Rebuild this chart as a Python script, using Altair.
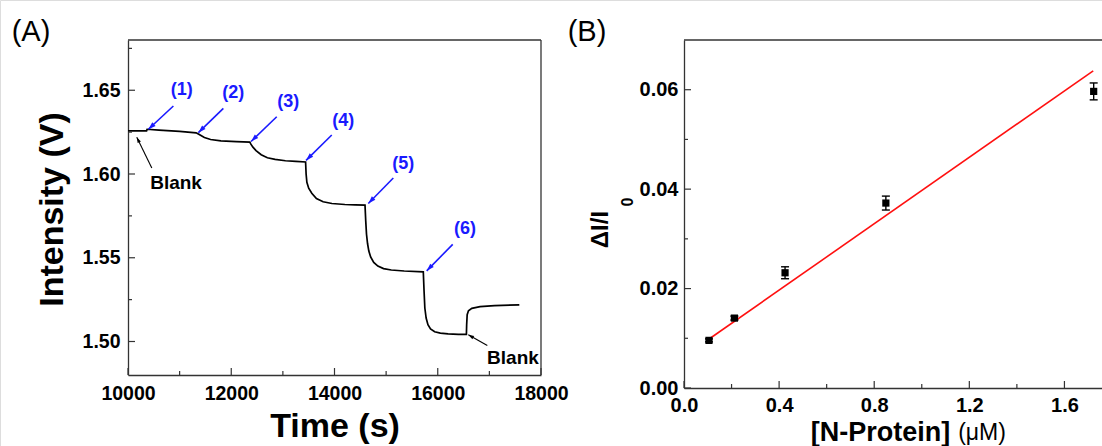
import math
import altair as alt
import pandas as pd

FONT = "Liberation Sans"
BLUE = "#1a1aff"
AXC = "#333333"

# ---------------- Panel A: time trace ----------------
time_s = [10000, 10200, 10360, 10370, 10600, 11000, 11320, 11380, 11480, 11600, 11800, 12100, 12360,
          12380, 12420, 12480, 12580, 12700, 12850, 13050, 13250, 13440,
          13450, 13465, 13500, 13560, 13650, 13780, 13950, 14200, 14400, 14591,
          14605, 14620, 14640, 14665, 14700, 14760, 14840, 14950, 15100, 15350, 15720,
          15735, 15750, 15775, 15810, 15860, 15940, 16050, 16200, 16400, 16555,
          16560, 16570, 16595, 16660, 16820, 17100, 17580]
intensity_v = [1.6258, 1.6258, 1.6258, 1.6267, 1.6262, 1.6254, 1.6246, 1.6236, 1.6218, 1.6206, 1.6198, 1.6193, 1.6190,
               1.6178, 1.6160, 1.6140, 1.6115, 1.6097, 1.6087, 1.6079, 1.6075, 1.6072,
               1.6000, 1.5950, 1.5915, 1.5885, 1.5853, 1.5834, 1.5824, 1.5818, 1.5816, 1.5814,
               1.5720, 1.5640, 1.5585, 1.5540, 1.5505, 1.5472, 1.5450, 1.5435, 1.5427, 1.5421, 1.5416,
               1.5300, 1.5200, 1.5140, 1.5100, 1.5075, 1.5058, 1.5050, 1.5045, 1.5043, 1.5042,
               1.5100, 1.5160, 1.5184, 1.5198, 1.5208, 1.5214, 1.5219]

step_labels = ["(1)", "(2)", "(3)", "(4)", "(5)", "(6)"]
step_label_t = [11042, 12041, 13106, 14171, 15333, 16528]
step_label_v = [1.6501, 1.6481, 1.6431, 1.6317, 1.6059, 1.5673]
step_arrow_t0 = [10879, 11847, 12881, 13947, 15139, 16290]
step_arrow_v0 = [1.6406, 1.6392, 1.6342, 1.6233, 1.5976, 1.5580]
step_arrow_t1 = [10395, 11363, 12384, 13449, 14655, 15786]
step_arrow_v1 = [1.6267, 1.6247, 1.6194, 1.6081, 1.5824, 1.5422]

blank_labels = ["Blank", "Blank"]
blank_label_t = [10931, 17457]
blank_label_v = [1.5948, 1.4903]
blank_arrow_t0 = [10461, 16960]
blank_arrow_v0 = [1.6036, 1.4976]
blank_arrow_t1 = [10170, 16592]
blank_arrow_v1 = [1.6220, 1.5040]

a_x_major = [10000, 12000, 14000, 16000, 18000]
a_x_minor = [11000, 13000, 15000, 17000]
a_y_major = [1.50, 1.55, 1.60, 1.65]
a_y_minor = [1.525, 1.575, 1.625, 1.675]

# ---------------- Panel B: calibration ----------------
conc_um = [0.105, 0.212, 0.425, 0.849, 1.723]
delta_ratio = [0.00958, 0.01406, 0.02318, 0.03720, 0.05966]
ratio_err = [0.0003, 0.0004, 0.0012, 0.0014, 0.0017]
fit_x = [0.101, 1.721]
fit_y = [0.0097, 0.0638]

b_x_major = [0.0, 0.4, 0.8, 1.2, 1.6]
b_x_minor = [0.2, 0.6, 1.0, 1.4]
b_y_major = [0.00, 0.02, 0.04, 0.06]
b_y_minor = [0.01, 0.03, 0.05]

# ---------------- scales ----------------
A_X = [10000, 18000]
A_Y = [1.48, 1.68]
A_XR = [128, 541]
A_YR = [375, 40]
B_X = [0, 1.758]
B_Y = [0, 0.07]
B_XR = [684, 1102]
B_YR = [388, 40]
W, H = 1102, 446


def sA():
    return (alt.Scale(domain=A_X, range=A_XR, nice=False, zero=False),
            alt.Scale(domain=A_Y, range=A_YR, nice=False, zero=False))


def sB():
    return (alt.Scale(domain=B_X, range=B_XR, nice=False, zero=False),
            alt.Scale(domain=B_Y, range=B_YR, nice=False, zero=False))


pxA = ((A_XR[1] - A_XR[0]) / (A_X[1] - A_X[0]), (A_YR[0] - A_YR[1]) / (A_Y[1] - A_Y[0]))


def head_angle(x0, y0, x1, y1, px):
    dx = (x1 - x0) * px[0]
    dy = -(y1 - y0) * px[1]
    return (math.degrees(math.atan2(dx, -dy)) + 360) % 360


HEAD = "M0,0L-0.32,1L0.32,1Z"

lab_common = dict(labelFont=FONT, labelFontWeight="bold", labelColor="black",
                  labelFlush=False, labelOverlap=False, ticks=False, tickSize=0, grid=False,
                  domainColor=AXC, domainWidth=1.3, titleFont=FONT, titleFontWeight="bold",
                  titleColor="black", titleAlign="center", titleBaseline="middle")

axA_x = alt.Axis(values=a_x_major, format="d", orient="bottom", offset=A_YR[0] - H, labelPadding=9,
                 labelFontSize=19.5, title="Time (s)", titleFontSize=34,
                 titleX=(A_XR[0] + A_XR[1]) / 2, titleY=51, **lab_common)
axA_y = alt.Axis(values=a_y_major, format=".2f", orient="left", offset=-A_XR[0], labelPadding=8,
                 labelFontSize=19.5, title="Intensity (V)", titleFontSize=34, titleX=52 - A_XR[0],
                 titleY=209, titleAngle=270, **lab_common)
axB_x = alt.Axis(values=b_x_major, format=".1f", orient="bottom", offset=B_YR[0] - H, labelPadding=7,
                 labelFontSize=20, title="[N-Protein]", titleFontSize=27, titleX=880, titleY=44,
                 **lab_common)
axB_y = alt.Axis(values=b_y_major, format=".2f", orient="left", offset=-B_XR[0], labelPadding=6,
                 labelFontSize=20, title="\u0394I/I", titleFontSize=24, titleX=600 - B_XR[0], titleY=229,
                 titleAngle=270, **lab_common)

layers = []

# ---------------- Panel A layers ----------------
xs, ys = sA()
curve_df = pd.DataFrame({"t": time_s, "v": intensity_v})
layers.append(alt.Chart(curve_df).mark_line(color="black", strokeWidth=1.7).encode(
    x=alt.X("t:Q", scale=xs, axis=axA_x),
    y=alt.Y("v:Q", scale=ys, axis=axA_y),
))

xs, ys = sA()
layers.append(alt.Chart(pd.DataFrame({"x1": [A_X[0], A_X[1]], "x2": [A_X[1], A_X[1]],
                                      "y1": [A_Y[1], A_Y[0]], "y2": [A_Y[1], A_Y[1]]})).mark_rule(
    color=AXC, strokeWidth=1.3).encode(
    x=alt.X("x1:Q", scale=xs, axis=None), x2="x2:Q",
    y=alt.Y("y1:Q", scale=ys, axis=None), y2="y2:Q"))


def xticks(vals, y0, length, scales):
    xs_, ys_ = scales()
    df = pd.DataFrame({"p": vals, "b": [y0] * len(vals)})
    return alt.Chart(df).mark_tick(orient="vertical", size=length, thickness=1.2,
                                   yOffset=-length / 2, color=AXC, opacity=1).encode(
        x=alt.X("p:Q", scale=xs_, axis=None), y=alt.Y("b:Q", scale=ys_, axis=None))


def yticks(vals, x0, length, scales):
    xs_, ys_ = scales()
    df = pd.DataFrame({"p": vals, "b": [x0] * len(vals)})
    return alt.Chart(df).mark_tick(orient="horizontal", size=length, thickness=1.2,
                                   xOffset=length / 2, color=AXC, opacity=1).encode(
        y=alt.Y("p:Q", scale=ys_, axis=None), x=alt.X("b:Q", scale=xs_, axis=None))


layers += [xticks(a_x_major, A_Y[0], 7, sA), xticks(a_x_minor, A_Y[0], 4, sA),
           yticks(a_y_major, A_X[0], 7, sA), yticks(a_y_minor, A_X[0], 4, sA)]

step_df = pd.DataFrame({
    "label": step_labels, "lt": step_label_t, "lv": step_label_v,
    "t0": step_arrow_t0, "v0": step_arrow_v0, "t1": step_arrow_t1, "v1": step_arrow_v1,
})
step_df["ang"] = [head_angle(a, b, c, d, pxA) for a, b, c, d in
                  zip(step_arrow_t0, step_arrow_v0, step_arrow_t1, step_arrow_v1)]
blank_df = pd.DataFrame({
    "label": blank_labels, "lt": blank_label_t, "lv": blank_label_v,
    "t0": blank_arrow_t0, "v0": blank_arrow_v0, "t1": blank_arrow_t1, "v1": blank_arrow_v1,
})
blank_df["ang"] = [head_angle(a, b, c, d, pxA) for a, b, c, d in
                   zip(blank_arrow_t0, blank_arrow_v0, blank_arrow_t1, blank_arrow_v1)]


def arrows(df, color, width, head_size, text_size):
    base = alt.Chart(df)
    xs1, ys1 = sA()
    line = base.mark_rule(color=color, strokeWidth=width).encode(
        x=alt.X("t0:Q", scale=xs1, axis=None), x2="t1:Q",
        y=alt.Y("v0:Q", scale=ys1, axis=None), y2="v1:Q")
    xs2, ys2 = sA()
    head = base.mark_point(shape=HEAD, filled=True, size=head_size, color=color, opacity=1,
                           strokeWidth=0).encode(
        x=alt.X("t1:Q", scale=xs2, axis=None), y=alt.Y("v1:Q", scale=ys2, axis=None),
        angle=alt.Angle("ang:Q", scale=None))
    xs3, ys3 = sA()
    text = base.mark_text(font=FONT, fontWeight="bold", fontSize=text_size, color=color,
                          align="center", baseline="middle").encode(
        x=alt.X("lt:Q", scale=xs3, axis=None), y=alt.Y("lv:Q", scale=ys3, axis=None), text="label:N")
    return [line, head, text]


layers += arrows(step_df, BLUE, 1.6, 230, 18)
layers += arrows(blank_df, "black", 1.1, 130, 19)

layers.append(alt.Chart(pd.DataFrame({"s": ["(A)"]})).mark_text(
    font=FONT, fontSize=29, color="black", align="center", baseline="middle").encode(
    x=alt.value(31), y=alt.value(32), text="s:N"))

# ---------------- Panel B layers ----------------
pts_df = pd.DataFrame({"c": conc_um, "r": delta_ratio, "e": ratio_err})
pts_df["lo"] = pts_df["r"] - pts_df["e"]
pts_df["hi"] = pts_df["r"] + pts_df["e"]

xs, ys = sB()
layers.append(alt.Chart(pd.DataFrame({"x1": [B_X[0]], "x2": [B_X[1]], "y1": [B_Y[1]]})).mark_rule(
    color=AXC, strokeWidth=1.3).encode(
    x=alt.X("x1:Q", scale=xs, axis=None), x2="x2:Q", y=alt.Y("y1:Q", scale=ys, axis=None)))

layers += [xticks(b_x_major, B_Y[0], 7, sB), xticks(b_x_minor, B_Y[0], 4, sB),
           yticks(b_y_major, B_X[0], 7, sB), yticks(b_y_minor, B_X[0], 4, sB)]

xs, ys = sB()
layers.append(alt.Chart(pd.DataFrame({"c": fit_x, "r": fit_y})).mark_line(
    color="#ff1010", strokeWidth=1.6).encode(
    x=alt.X("c:Q", scale=xs, axis=axB_x),
    y=alt.Y("r:Q", scale=ys, axis=axB_y),
))
xs, ys = sB()
layers.append(alt.Chart(pts_df).mark_rule(color="black", strokeWidth=1.4).encode(
    x=alt.X("c:Q", scale=xs, axis=None), y=alt.Y("lo:Q", scale=ys, axis=None), y2="hi:Q"))
for col in ["lo", "hi"]:
    xs, ys = sB()
    layers.append(alt.Chart(pts_df).mark_tick(orient="horizontal", size=8, thickness=1.4,
                                              color="black", opacity=1).encode(
        x=alt.X("c:Q", scale=xs, axis=None), y=alt.Y(f"{col}:Q", scale=ys, axis=None)))
xs, ys = sB()
layers.append(alt.Chart(pts_df).mark_square(size=52, color="black", opacity=1).encode(
    x=alt.X("c:Q", scale=xs, axis=None), y=alt.Y("r:Q", scale=ys, axis=None)))

layers.append(alt.Chart(pd.DataFrame({"s": ["(B)"]})).mark_text(
    font=FONT, fontSize=29, color="black", align="center", baseline="middle").encode(
    x=alt.value(587), y=alt.value(32), text="s:N"))
layers.append(alt.Chart(pd.DataFrame({"s": ["0"]})).mark_text(
    font=FONT, fontSize=16, fontWeight="bold", color="black", align="center", baseline="middle",
    angle=270).encode(x=alt.value(628), y=alt.value(202), text="s:N"))
layers.append(alt.Chart(pd.DataFrame({"s": ["(\u03bcM)"]})).mark_text(
    font=FONT, fontSize=23, color="black", align="center", baseline="middle").encode(
    x=alt.value(982), y=alt.value(433), text="s:N"))

chart = alt.layer(*layers).resolve_scale(x="independent", y="independent").properties(
    width=W, height=H, autosize=alt.AutoSizeParams(type="none"), padding=0,
).configure_view(stroke=None).configure(background="white")

chart.save("out.html", embed_options={"renderer": "svg", "actions": False})
